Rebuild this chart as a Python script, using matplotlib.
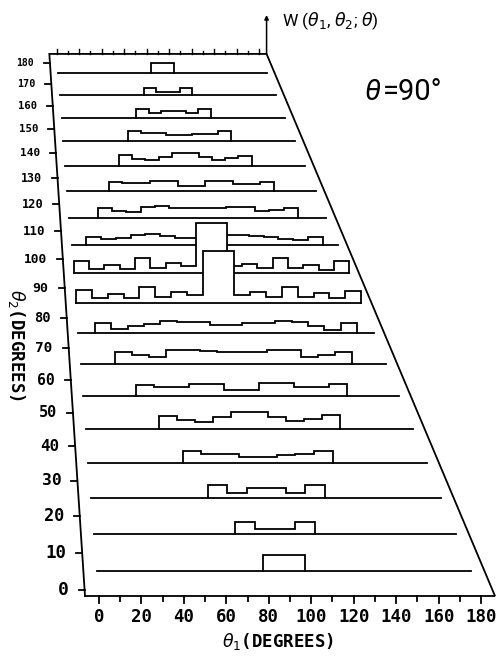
import numpy as np
import matplotlib
matplotlib.use("Agg")
import matplotlib.pyplot as plt

# ---------------- data ----------------
# theta2 bin centres (degrees), one histogram row per bin
theta2_rows = [5, 15, 25, 35, 45, 55, 65, 75, 85, 95, 105, 115, 125, 135, 145, 155, 165, 175]

# W(theta1, theta2; theta) per 10-degree theta1 bin (rows are centred on theta1 = 90)
w005 = [7.7, 7.7]
w015 = [6.1, 2.8, 2.8, 6.1]
w025 = [6.9, 2.9, 5.5, 5.5, 2.9, 6.9]
w035 = [6.4, 5.0, 4.8, 3.6, 3.6, 4.6, 4.9, 6.4]
w045 = [7.5, 5.3, 4.2, 6.6, 9.4, 9.5, 6.8, 4.4, 5.5, 7.7]
w055 = [6.4, 5.3, 5.3, 7.2, 7.2, 3.8, 3.8, 7.4, 7.4, 5.3, 5.3, 6.8]
w065 = [6.9, 5.3, 4.0, 8.4, 8.4, 7.7, 7.1, 7.1, 7.4, 8.6, 8.6, 4.0, 5.3, 6.9]
w075 = [5.8, 2.7, 4.3, 5.5, 7.3, 6.7, 6.4, 4.9, 4.6, 6.1, 6.1, 7.5, 6.5, 4.5, 2.0, 6.1]
w085 = [8.0, 2.7, 5.5, 3.3, 10.1, 3.8, 6.5, 4.9, 32.6, 32.6, 4.9, 6.9, 3.8, 9.7, 3.8, 5.9, 2.7, 7.6]
w095 = [8.0, 3.1, 5.4, 3.1, 9.8, 3.7, 7.0, 5.2, 32.7, 32.7, 5.2, 6.5, 3.7, 9.8, 3.3, 5.4, 2.6, 8.0]
w105 = [5.6, 3.9, 4.9, 6.6, 7.6, 6.1, 4.9, 5.1, 6.1, 7.2, 7.1, 6.1, 5.6, 4.5, 3.2, 5.6]
w115 = [6.5, 4.9, 3.7, 7.7, 8.4, 6.5, 6.5, 6.5, 7.0, 7.5, 7.5, 4.4, 5.4, 6.5]
w125 = [7.0, 5.8, 5.8, 7.8, 7.8, 3.6, 3.6, 7.6, 7.6, 5.4, 5.4, 6.5]
w135 = [7.9, 5.5, 4.1, 6.5, 9.4, 9.4, 6.7, 4.3, 5.8, 7.5]
w145 = [7.8, 6.6, 6.6, 4.7, 4.7, 6.0, 6.0, 7.8]
w155 = [7.0, 3.8, 5.6, 5.6, 3.8, 7.0]
w165 = [6.1, 2.7, 2.7, 6.1]
w175 = [9.2, 9.2]
rows_w = [w005, w015, w025, w035, w045, w055, w065, w075, w085,
          w095, w105, w115, w125, w135, w145, w155, w165, w175]

bin_width = 10
theta1_ticks = [0, 20, 40, 60, 80, 100, 120, 140, 160, 180]
theta1_minor = list(range(0, 181, 10))
theta2_ticks = list(range(0, 181, 10))
theta_value = 90

# ---------------- oblique projection (layout) ----------------
T1_LO, T1_HI = -6.5, 186.5
T2_LO, T2_HI = -1.58, 184.4


def yfloor(t2):
    t2 = np.asarray(t2, float)
    return 590.0 - 3.783 * t2 + 0.00475 * t2 ** 2


def proj(t1, t2, w=0.0):
    t1, t2, w = np.broadcast_arrays(np.asarray(t1, float),
                                    np.asarray(t2, float),
                                    np.asarray(w, float))
    y0 = yfloor(t2)
    d = 596.0 - y0
    xl = 85.0 - 0.06578 * d
    xr = 495.0 - 0.4214 * d
    pd = (xr - xl) / (T1_HI - T1_LO)
    return xl + (t1 - T1_LO) * pd, y0 - w * pd, pd


fig = plt.figure(figsize=(4.99, 6.57), dpi=100)
ax = fig.add_axes([0, 0, 1, 1])
ax.set_xlim(0, 499)
ax.set_ylim(657, 0)
ax.axis("off")

LW = 1.3
MONO = "DejaVu Sans Mono"
THIN = "Roboto"

# frame
cx, cy, _ = proj([T1_LO, T1_HI, T1_HI, T1_LO, T1_LO],
                 [T2_LO, T2_LO, T2_HI, T2_HI, T2_LO])
ax.plot(cx, cy, color="k", lw=LW, zorder=1, solid_joinstyle="miter")

# bottom ticks / labels
for t in theta1_minor:
    x, y, _ = proj(t, T2_LO)
    ln = 7 if t % 20 == 0 else 5
    ax.plot([x, x], [y, y + ln], color="k", lw=LW, zorder=1)
for t in theta1_ticks:
    x, y, _ = proj(t, T2_LO)
    ax.text(float(x), 617, str(t), ha="center", va="center", fontsize=12.5,
            family=MONO, fontweight="bold")

# top (back) ticks
for t in theta1_minor:
    x, y, _ = proj(t, T2_HI)
    ln = 5 if t % 20 == 0 else 3
    ax.plot([x, x], [y, y - ln], color="k", lw=1.0, zorder=1)

# left ticks / labels (shrinking with depth)
_, _, pd0 = proj(0, 0)
for t2 in theta2_ticks:
    x, y, pd = proj(T1_LO, t2)
    x, y, pd = float(x), float(y), float(pd)
    ax.plot([x - 6, x], [y, y], color="k", lw=LW, zorder=1)
    ax.text(x - 16, y, str(t2), ha="right", va="center",
            fontsize=13 * pd / float(pd0), family=MONO, fontweight="bold")

# histogram rows, far to near, white-filled for hidden-line removal
order = list(range(len(theta2_rows)))[::-1]
for k, i in enumerate(order):
    c = theta2_rows[i]
    vals = rows_w[i]
    n = len(vals)
    start = 90 - n * bin_width / 2
    e = start + bin_width * np.arange(n + 1)
    pt1 = [e[0]]
    pw = [0.0]
    for j, v in enumerate(vals):
        pt1 += [e[j], e[j + 1]]
        pw += [v, v]
    pt1.append(e[-1])
    pw.append(0.0)
    px, py, _ = proj(pt1, c, pw)
    z = 2 + 2 * k
    ax.fill(px, py, facecolor="white", edgecolor="none", zorder=z)
    ax.plot(px, py, color="k", lw=LW, zorder=z + 1, solid_joinstyle="miter")
    bx, by, _ = proj([0, 180], c)
    ax.plot(bx, by, color="k", lw=LW, zorder=z + 1)

# W axis arrow
tx, ty, _ = proj(T1_HI, T2_HI)
tx, ty = float(tx), float(ty)
ax.annotate("", xy=(tx, 15), xytext=(tx, ty),
            arrowprops=dict(arrowstyle="-|>", lw=1.1, color="k",
                            mutation_scale=6, shrinkA=0, shrinkB=0))
ax.text(282, 21, r"W ($\theta_1$, $\theta_2$; $\theta$)", ha="left", va="center",
        fontsize=12.5, family=THIN, fontweight="normal")
ax.text(372, 92, "θ", ha="center", va="center", fontsize=21,
        family=THIN, fontweight="normal", style="italic")
ax.text(383, 92, "=%d°" % theta_value, ha="left", va="center",
        fontsize=21, family=THIN, fontweight="normal")

# axis titles
ax.text(278, 641, r"$\theta_1$(DEGREES)", ha="center", va="center",
        fontsize=12.5, family=MONO, fontweight="bold")
ax.text(16, 345, r"$\theta_2$(DEGREES)", ha="center", va="center",
        rotation=270, fontsize=12.5, family=MONO, fontweight="bold")

fig.savefig("out.png", dpi=100)
